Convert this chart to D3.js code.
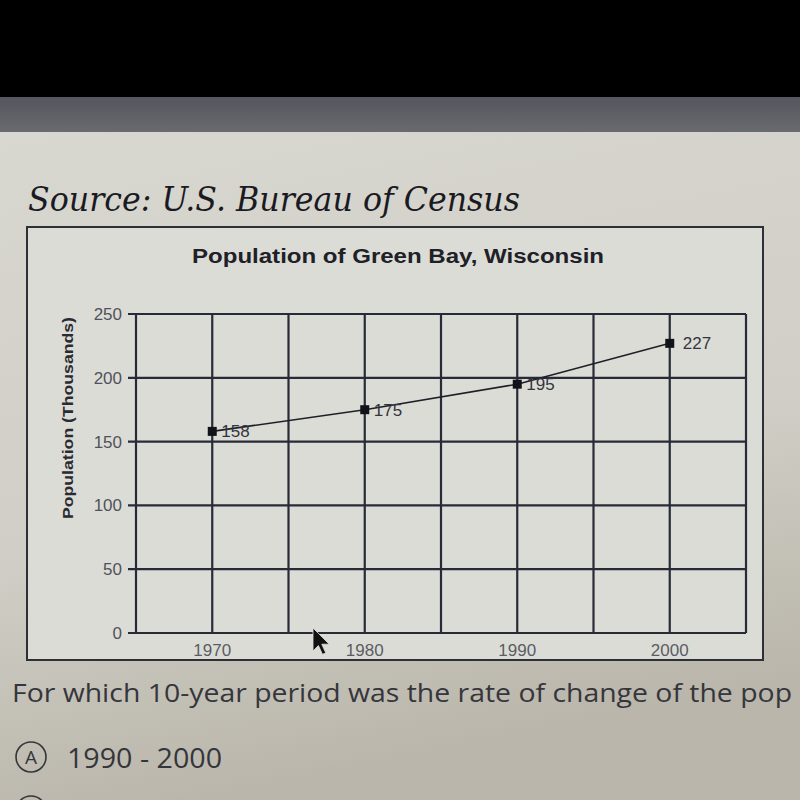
<!DOCTYPE html>
<html lang="en">
<head>
<meta charset="utf-8">
<title>Population of Green Bay, Wisconsin</title>
<script src="https://cdn.jsdelivr.net/npm/d3@7"></script>
<style>
  body { margin: 0; background: #000; }
  svg { display: block; }
</style>
</head>
<body></body>
<script type="text/javascript">

//****************************************************************************//
// Data

var years = [1970, 1980, 1990, 2000];
var population = [158, 175, 195, 227];
var yTicks = [0, 50, 100, 150, 200, 250];
var gridYears = [1965, 1970, 1975, 1980, 1985, 1990, 1995, 2000, 2005];
var labelYears = [1970, 1980, 1990, 2000];

var width = 800,
    height = 800;

//****************************************************************************//
// Canvas

var canvas = d3.select("body")
            .append("svg")
            .attr("width", width)
            .attr("height", height);

var defs = canvas.append("defs");

var pageGrad = defs.append("linearGradient")
        .attr("id", "page")
        .attr("x1", 0).attr("y1", 0).attr("x2", 0.25).attr("y2", 1);
pageGrad.append("stop").attr("offset", "0%").attr("stop-color", "#d8d7d0");
pageGrad.append("stop").attr("offset", "60%").attr("stop-color", "#d0cec6");
pageGrad.append("stop").attr("offset", "100%").attr("stop-color", "#bab6ab");

var bandGrad = defs.append("linearGradient")
        .attr("id", "band")
        .attr("x1", 0).attr("y1", 0).attr("x2", 0).attr("y2", 1);
bandGrad.append("stop").attr("offset", "0%").attr("stop-color", "#55565e");
bandGrad.append("stop").attr("offset", "100%").attr("stop-color", "#6a6b70");

canvas.append("rect")
        .attr("width", width)
        .attr("height", height)
        .attr("fill", "#000");

canvas.append("rect")
        .attr("x", 0).attr("y", 97)
        .attr("width", width).attr("height", 36)
        .attr("fill", "url(#band)");

canvas.append("rect")
        .attr("x", 0).attr("y", 132)
        .attr("width", width).attr("height", height - 132)
        .attr("fill", "url(#page)");

canvas.append("text")
        .attr("x", 28)
        .attr("y", 211)
        .attr("textLength", 492)
        .attr("lengthAdjust", "spacingAndGlyphs")
        .style("font-family", "'DejaVu Serif', serif")
        .style("font-style", "italic")
        .style("font-size", "34px")
        .attr("fill", "#1a1a22")
        .text("Source: U.S. Bureau of Census");

//****************************************************************************//
// Chart box

canvas.append("rect")
        .attr("x", 27)
        .attr("y", 227)
        .attr("width", 736)
        .attr("height", 433)
        .attr("fill", "#dcdcd7")
        .attr("stroke", "#2e3038")
        .attr("stroke-width", 2);

canvas.append("text")
        .attr("x", 398)
        .attr("y", 263)
        .attr("text-anchor", "middle")
        .attr("textLength", 412)
        .attr("lengthAdjust", "spacingAndGlyphs")
        .style("font-family", "'Liberation Sans', Arial, sans-serif")
        .style("font-weight", "bold")
        .style("font-size", "20px")
        .attr("fill", "#202127")
        .text("Population of Green Bay, Wisconsin");

var x = d3.scaleLinear().domain([1965, 2005]).range([136, 746]);
var y = d3.scaleLinear().domain([0, 250]).range([633, 314]);

var gridColor = "#272b37";

// vertical gridlines
canvas.append("g")
        .selectAll("line")
        .data(gridYears)
        .join("line")
        .attr("x1", function(d){ return x(d); })
        .attr("x2", function(d){ return x(d); })
        .attr("y1", y(250))
        .attr("y2", y(0))
        .attr("stroke", gridColor)
        .attr("stroke-width", 2.2);

// horizontal gridlines
canvas.append("g")
        .selectAll("line")
        .data(yTicks)
        .join("line")
        .attr("x1", x(1965) - 8)
        .attr("x2", x(2005))
        .attr("y1", function(d){ return y(d); })
        .attr("y2", function(d){ return y(d); })
        .attr("stroke", gridColor)
        .attr("stroke-width", 2.2);

// y tick labels
canvas.append("g")
        .selectAll("text")
        .data(yTicks)
        .join("text")
        .attr("x", 122)
        .attr("y", function(d){ return y(d) + 6; })
        .attr("text-anchor", "end")
        .style("font-family", "'Liberation Sans', Arial, sans-serif")
        .style("font-size", "17px")
        .attr("fill", "#50525a")
        .text(function(d){ return d; });

// x tick labels
canvas.append("g")
        .selectAll("text")
        .data(labelYears)
        .join("text")
        .attr("x", function(d){ return x(d); })
        .attr("y", 656)
        .attr("text-anchor", "middle")
        .style("font-family", "'Liberation Sans', Arial, sans-serif")
        .style("font-size", "17px")
        .attr("fill", "#5a5c64")
        .text(function(d){ return d; });

// y axis title
canvas.append("text")
        .attr("transform", "translate(73," + 418 + ") rotate(-90)")
        .attr("text-anchor", "middle")
        .attr("textLength", 202)
        .attr("lengthAdjust", "spacingAndGlyphs")
        .style("font-family", "'Liberation Sans', Arial, sans-serif")
        .style("font-weight", "bold")
        .style("font-size", "14px")
        .attr("fill", "#2a2b31")
        .text("Population (Thousands)");

//****************************************************************************//
// Series

var points = years.map(function(d, i){ return {year: d, value: population[i]}; });

var line = d3.line()
        .x(function(d){ return x(d.year); })
        .y(function(d){ return y(d.value); });

canvas.append("path")
        .datum(points)
        .attr("d", line)
        .attr("fill", "none")
        .attr("stroke", "#1e2028")
        .attr("stroke-width", 1.6);

canvas.append("g")
        .selectAll("rect")
        .data(points)
        .join("rect")
        .attr("x", function(d){ return x(d.year) - 4.5; })
        .attr("y", function(d){ return y(d.value) - 4.5; })
        .attr("width", 9)
        .attr("height", 9)
        .attr("fill", "#111318");

canvas.append("g")
        .selectAll("text")
        .data(points)
        .join("text")
        .attr("x", function(d, i){ return x(d.year) + (i == points.length - 1 ? 13 : 9); })
        .attr("y", function(d){ return y(d.value) + 6; })
        .style("font-family", "'Liberation Sans', Arial, sans-serif")
        .style("font-size", "17px")
        .attr("fill", "#33353c")
        .text(function(d){ return d.value; });

//****************************************************************************//
// Mouse pointer

canvas.append("path")
        .attr("transform", "translate(313,628) scale(1.35)")
        .attr("d", "M0,0 L0,17 L4,13 L7,19.5 L9.5,18.5 L6.5,12 L12,12 Z")
        .attr("fill", "#111")
        .attr("stroke", "#e0e0e0")
        .attr("stroke-width", 0.6);

//****************************************************************************//
// Question

canvas.append("text")
        .attr("x", 12)
        .attr("y", 702)
        .attr("textLength", 780)
        .attr("lengthAdjust", "spacingAndGlyphs")
        .style("font-family", "'Open Sans', sans-serif")
        .style("font-size", "25px")
        .attr("fill", "#35363b")
        .text("For which 10-year period was the rate of change of the pop");

canvas.append("circle")
        .attr("cx", 31)
        .attr("cy", 757)
        .attr("r", 15)
        .attr("fill", "none")
        .attr("stroke", "#35363b")
        .attr("stroke-width", 1.6);

canvas.append("text")
        .attr("x", 31)
        .attr("y", 764)
        .attr("text-anchor", "middle")
        .style("font-family", "'Open Sans', sans-serif")
        .style("font-size", "19px")
        .attr("fill", "#35363b")
        .text("A");

canvas.append("text")
        .attr("x", 67)
        .attr("y", 768)
        .attr("textLength", 155)
        .attr("lengthAdjust", "spacingAndGlyphs")
        .style("font-family", "'Open Sans', sans-serif")
        .style("font-size", "28px")
        .attr("fill", "#35363b")
        .text("1990 - 2000");

canvas.append("circle")
        .attr("cx", 31)
        .attr("cy", 811)
        .attr("r", 15)
        .attr("fill", "none")
        .attr("stroke", "#35363b")
        .attr("stroke-width", 1.6);

</script>
</html>
